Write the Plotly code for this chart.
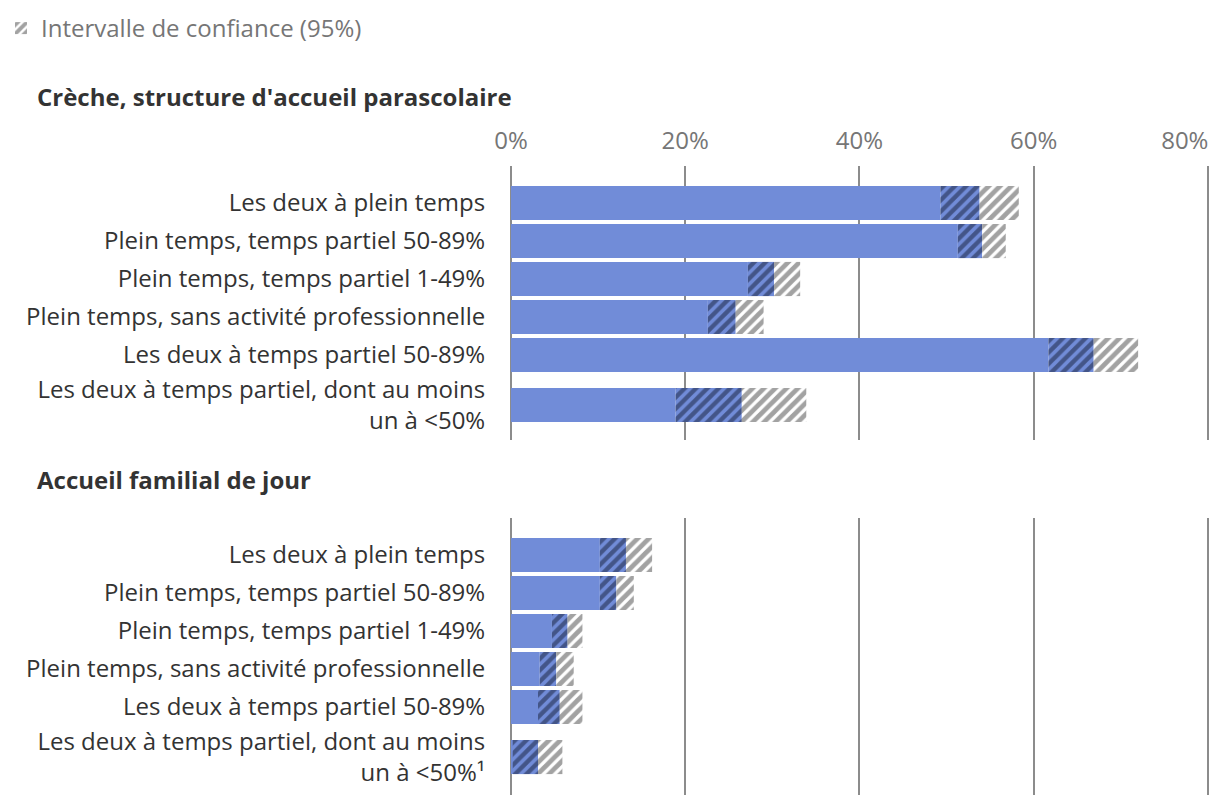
import plotly.graph_objects as go

# ---------------- data ----------------
categories_creche = [
    "Les deux à plein temps",
    "Plein temps, temps partiel 50-89%",
    "Plein temps, temps partiel 1-49%",
    "Plein temps, sans activité professionnelle",
    "Les deux à temps partiel 50-89%",
    "Les deux à temps partiel, dont au moins<br>un à &lt;50%",
]
creche_low = [49.3, 51.3, 27.2, 22.6, 61.7, 18.9]
creche_est = [53.8, 54.1, 30.2, 25.8, 66.9, 26.5]
creche_high = [58.3, 56.8, 33.2, 29.0, 72.0, 33.9]

categories_familial = [
    "Les deux à plein temps",
    "Plein temps, temps partiel 50-89%",
    "Plein temps, temps partiel 1-49%",
    "Plein temps, sans activité professionnelle",
    "Les deux à temps partiel 50-89%",
    "Les deux à temps partiel, dont au moins<br>un à &lt;50%¹",
]
familial_low = [10.2, 10.2, 4.7, 3.3, 3.1, 0.2]
familial_est = [13.2, 12.1, 6.5, 5.2, 5.6, 3.1]
familial_high = [16.2, 14.1, 8.2, 7.2, 8.2, 5.9]

x_ticks = [0, 20, 40, 60, 80]
x_tick_labels = ["0%", "20%", "40%", "60%", "80%"]
panel_titles = ["Crèche, structure d'accueil parascolaire", "Accueil familial de jour"]
legend_label = "Intervalle de confiance (95%)"

# ---------------- style ----------------
FONT = "Open Sans"
FS = 24
BLUE = "#718cd8"
DARK_STRIPE = "#161d38"
GRAY_STRIPE = "#454545"
GRID = "#8c8c8c"
TEXT = "#333333"
TICK = "#767676"
# the page body adds an 8px margin; the figure fills the rest of the window
W, H = 1212, 798
OFF = 8
PX_PER_PCT = 8.71
X_MAX = 81


def row_positions(labels):
    pos, y = [], 0.0
    for i, lab in enumerate(labels):
        if i > 0:
            y += 1 + 0.316 * lab.count("<br>")
        pos.append(y)
    return pos


def px_x(px):
    return (px - OFF) / W


def px_y(py):
    return 1 - (py - OFF) / H


fig = go.Figure()

panels = [
    (categories_creche, creche_low, creche_est, creche_high, "x", "y"),
    (categories_familial, familial_low, familial_est, familial_high, "x2", "y2"),
]

for pi, (cats, low, est, high, xa, ya) in enumerate(panels):
    pos = row_positions(cats)
    fig.add_trace(go.Bar(
        orientation="h", y=pos, x=low, base=[0] * len(low), width=0.9,
        marker=dict(color=BLUE, line=dict(width=0)),
        xaxis=xa, yaxis=ya, showlegend=False, hoverinfo="skip",
    ))
    fig.add_trace(go.Bar(
        orientation="h", y=pos, x=[e - l for e, l in zip(est, low)], base=low, width=0.9,
        marker=dict(color=BLUE, line=dict(width=0),
                    pattern=dict(shape="/", fgcolor=DARK_STRIPE, bgcolor=BLUE,
                                 size=8, solidity=0.55)),
        xaxis=xa, yaxis=ya, showlegend=False, hoverinfo="skip",
    ))
    fig.add_trace(go.Bar(
        orientation="h", y=pos, x=[h - e for h, e in zip(high, est)], base=est, width=0.9,
        marker=dict(color="white", line=dict(width=0),
                    pattern=dict(shape="/", fgcolor=GRAY_STRIPE, bgcolor="white",
                                 size=8, solidity=0.6)),
        xaxis=xa, yaxis=ya, name=legend_label, showlegend=(pi == 0), hoverinfo="skip",
    ))

# empty helper trace so the overlaid twin axis (carrying the last tick label) is drawn
fig.add_trace(go.Scatter(x=[], y=[], xaxis="x3", yaxis="y", mode="markers",
                         showlegend=False, hoverinfo="skip"))

x_dom = [px_x(511), min(1.0, px_x(511 + X_MAX * PX_PER_PCT))]
common_x = dict(
    domain=x_dom, range=[0, X_MAX],
    showgrid=True, gridcolor=GRID, gridwidth=2,
    zeroline=True, zerolinecolor=GRID, zerolinewidth=2, showline=False,
    tickfont=dict(family=FONT, size=FS, color=TICK), fixedrange=True,
    automargin=False,
)

pos1 = row_positions(categories_creche)
pos2 = row_positions(categories_familial)

ycommon = dict(showgrid=False, zeroline=False, ticks="outside", ticklen=20,
               tickcolor="rgba(0,0,0,0)", tickfont=dict(family=FONT, size=FS, color=TEXT),
               fixedrange=True, automargin=False)

fig.update_layout(
    width=W, height=H,
    margin=dict(l=0, r=0, t=0, b=0, autoexpand=False),
    plot_bgcolor="white", paper_bgcolor="white",
    barmode="overlay",
    font=dict(family=FONT, size=FS, color=TEXT),
    # top axis: all ticks/gridlines, labels for all but the last tick
    xaxis=dict(common_x, anchor="y", side="top", ticks="outside", ticklen=6,
               tickcolor="rgba(0,0,0,0)", tickvals=x_ticks,
               ticktext=x_tick_labels[:-1] + [""]),
    # overlaid twin axis carrying the last label, shifted left to stay inside the chart
    xaxis3=dict(domain=x_dom, range=[0, X_MAX], overlaying="x", anchor="y", side="top",
                tickvals=x_ticks[-1:], ticktext=x_tick_labels[-1:], ticks="outside",
                ticklen=6, tickcolor="rgba(0,0,0,0)", ticklabelshift=-23,
                showgrid=False, zeroline=False, showline=False, automargin=False,
                tickfont=dict(family=FONT, size=FS, color=TICK), fixedrange=True),
    xaxis2=dict(common_x, anchor="y2", tickvals=x_ticks, showticklabels=False),
    yaxis=dict(ycommon, domain=[px_y(440), px_y(166)], range=[6.237, -0.974],
               tickvals=pos1, ticktext=categories_creche, anchor="x"),
    yaxis2=dict(ycommon, domain=[px_y(795), px_y(518)], range=[6.316, -0.974],
                tickvals=pos2, ticktext=categories_familial, anchor="x2"),
    legend=dict(x=-7 / W, y=1 + 2 / H, xanchor="left", yanchor="top",
                font=dict(family=FONT, size=FS, color=TICK), bgcolor="rgba(0,0,0,0)"),
    annotations=[
        dict(text="<b>%s</b>" % panel_titles[0], x=px_x(35), y=px_y(97),
             xref="paper", yref="paper", xanchor="left", yanchor="middle", showarrow=False,
             font=dict(family=FONT, size=FS, color=TEXT)),
        dict(text="<b>%s</b>" % panel_titles[1], x=px_x(35), y=px_y(479),
             xref="paper", yref="paper", xanchor="left", yanchor="middle", showarrow=False,
             font=dict(family=FONT, size=FS, color=TEXT)),
    ],
)

fig.write_html("out.html")
